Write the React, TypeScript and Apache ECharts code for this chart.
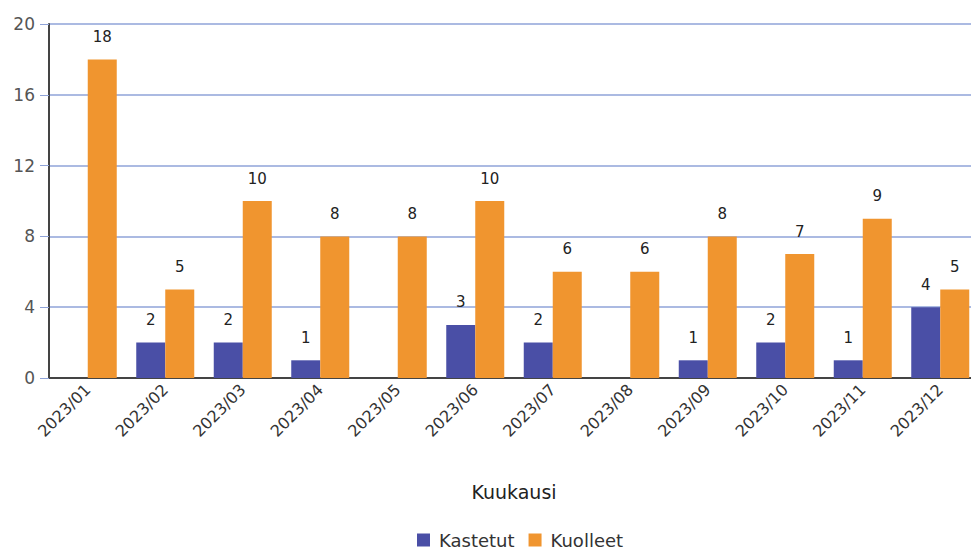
import React, { useEffect, useRef } from "react";
import * as echarts from "echarts";

const categories = ["2023/01", "2023/02", "2023/03", "2023/04", "2023/05", "2023/06", "2023/07", "2023/08", "2023/09", "2023/10", "2023/11", "2023/12"];
const kastetut = [0, 2, 2, 1, 0, 3, 2, 0, 1, 2, 1, 4];
const kuolleet = [18, 5, 10, 8, 8, 10, 6, 6, 8, 7, 9, 5];
const yTicks = { min: 0, max: 20, interval: 4 };

const FONT = "'DejaVu Sans', 'Open Sans', sans-serif";

export default function App() {
  const ref = useRef<HTMLDivElement>(null);
  useEffect(() => {
    if (!ref.current) return;
    const chart = echarts.init(ref.current, undefined, { renderer: "svg" });
    const label = {
      show: true,
      position: "top" as const,
      distance: 15,
      color: "#222",
      fontSize: 15,
      fontFamily: FONT,
      formatter: (p: any) => (p.value ? String(p.value) : ""),
    };
    chart.setOption({
      animation: false,
      backgroundColor: "#ffffff",
      grid: { left: 49, right: 0, top: 24, bottom: 177, containLabel: false },
      legend: {
        bottom: 1,
        left: 412,
        itemWidth: 13,
        itemHeight: 13,
        itemGap: 14,
        icon: "rect",
        textStyle: { fontSize: 18, color: "#333", fontFamily: FONT, padding: [0, 0, 0, 4] },
        data: ["Kastetut", "Kuolleet"],
      },
      xAxis: {
        type: "category",
        data: categories,
        name: "Kuukausi",
        nameLocation: "middle",
        nameGap: 104,
        nameTextStyle: { fontSize: 19, color: "#222", fontFamily: FONT },
        axisLine: { lineStyle: { color: "#444", width: 2 } },
        axisTick: { show: false },
        axisLabel: { rotate: 45, fontSize: 16, color: "#333", fontFamily: FONT, margin: 9 },
      },
      yAxis: {
        type: "value",
        min: yTicks.min,
        max: yTicks.max,
        interval: yTicks.interval,
        axisLine: { show: true, lineStyle: { color: "#444", width: 2 } },
        axisTick: { show: true, length: 9, lineStyle: { color: "#8fa3d8" } },
        axisLabel: { fontSize: 17, color: "#555", fontFamily: FONT, margin: 14 },
        splitLine: { lineStyle: { color: "#8fa3d8", width: 1.5 } },
      },
      series: [
        {
          name: "Kastetut",
          type: "bar",
          data: kastetut,
          barWidth: 29,
          barGap: "0%",
          itemStyle: { color: "#4a4fa6" },
          label,
        },
        {
          name: "Kuolleet",
          type: "bar",
          data: kuolleet,
          barWidth: 29,
          barGap: "0%",
          itemStyle: { color: "#f0952f" },
          label,
        },
      ],
    });
    return () => chart.dispose();
  }, []);
  return <div ref={ref} style={{ position: "fixed", left: 0, top: 0, width: 979, height: 555 }} />;
}
